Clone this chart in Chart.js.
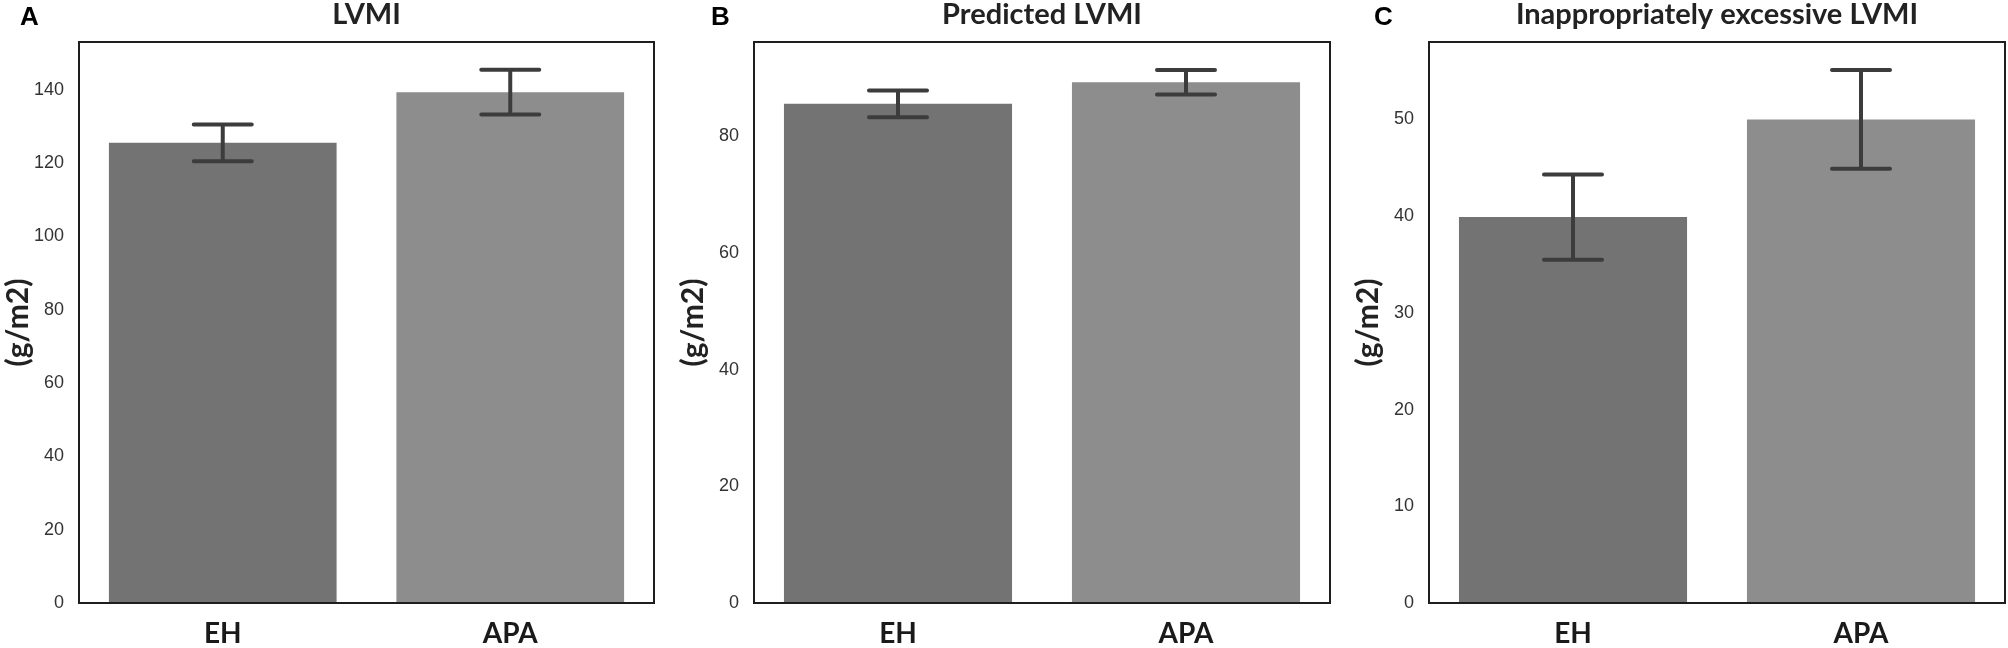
<!DOCTYPE html>
<html>
<head>
<meta charset="utf-8">
<script src="https://cdn.jsdelivr.net/npm/chart.js@4.4.0/dist/chart.umd.min.js"></script>
<style>
body { margin: 0; background: #fff; }
#wrap { position: relative; width: 2008px; height: 648px; overflow: hidden; }
.panel { position: absolute; top: 0; width: 658px; height: 648px; }
.letter { position: absolute; top: 3px; font: bold 26px "Liberation Sans", Arial, sans-serif; line-height: 26px; color: #000; }
</style>
</head>
<body>
<div id="wrap">
  <div class="panel" style="left:0"><canvas id="graphA"></canvas></div>
  <div class="panel" style="left:675px"><canvas id="graphB"></canvas></div>
  <div class="panel" style="left:1350px"><canvas id="graphC"></canvas></div>
  <div class="letter" style="left:20px">A</div>
  <div class="letter" style="left:711px">B</div>
  <div class="letter" style="left:1374px">C</div>
</div>
<script>
// groups and colours
var groups = ["EH", "APA"];
var barColors = ["#737373", "#8d8d8d"];

// mean values and error bars (g/m2)
var lvmi_mean = [125.5, 139.3];
var lvmi_err = [5.0, 6.1];
var predicted_mean = [85.6, 89.3];
var predicted_err = [2.3, 2.1];
var excess_mean = [39.9, 50.0];
var excess_err = [4.4, 5.1];

var titles = ["LVMI", "Predicted LVMI", "Inappropriately excessive LVMI"];
var yMax = [153, 96.2, 58];
var yStep = [20, 20, 10];
var yLabel = "(g/m2)";

// error bars drawn from the y scale of each chart
var errorBars = {
    id: "errorBars",
    afterDatasetsDraw(chart) {
        var ctx = chart.ctx;
        var yScale = chart.scales.y;
        chart.data.datasets.forEach(function(ds, i) {
            var meta = chart.getDatasetMeta(i);
            meta.data.forEach(function(bar, n) {
                var hi = yScale.getPixelForValue(ds.data[n] + ds.errors[n]);
                var lo = yScale.getPixelForValue(ds.data[n] - ds.errors[n]);
                ctx.save();
                ctx.strokeStyle = "#3c3c3c";
                ctx.lineWidth = 4;
                ctx.lineCap = "butt";
                ctx.beginPath();
                ctx.moveTo(bar.x, hi);
                ctx.lineTo(bar.x, lo);
                ctx.stroke();
                ctx.lineCap = "round";
                ctx.beginPath();
                ctx.moveTo(bar.x - 29, hi);
                ctx.lineTo(bar.x + 29, hi);
                ctx.moveTo(bar.x - 29, lo);
                ctx.lineTo(bar.x + 29, lo);
                ctx.stroke();
                ctx.restore();
            });
        });
    }
};

// box around the plot area
var frame = {
    id: "frame",
    afterDatasetsDraw(chart) {
        var a = chart.chartArea;
        var ctx = chart.ctx;
        ctx.save();
        ctx.strokeStyle = "#1e1e1e";
        ctx.lineWidth = 2;
        ctx.strokeRect(a.left, a.top, a.right - a.left, a.bottom - a.top);
        ctx.restore();
    }
};

function makeChart(id, means, errs, title, max, step, padRight) {
    var ctx = document.getElementById(id).getContext("2d");
    return new Chart(ctx, {
        type: "bar",
        data: {
            labels: groups,
            datasets: [{
                data: means,
                errors: errs,
                backgroundColor: barColors,
                borderWidth: 0,
                barPercentage: 0.792,
                categoryPercentage: 1
            }]
        },
        options: {
            responsive: true,
            maintainAspectRatio: false,
            animation: false,
            layout: { padding: { left: 0, right: padRight, top: 0, bottom: 0 } },
            plugins: {
                legend: { display: false },
                tooltip: { enabled: false },
                title: {
                    display: true,
                    text: title,
                    fullSize: false,
                    color: "#222",
                    font: { family: "Lato", size: 29, weight: "bold" },
                    padding: { top: -3, bottom: 10.2 }
                }
            },
            scales: {
                x: {
                    grid: { display: false, drawTicks: false },
                    border: { display: false },
                    ticks: {
                        color: "#1a1a1a",
                        padding: 14,
                        font: { family: "Lato", size: 28, weight: "bold" }
                    },
                    afterFit: function(s) { s.height = 45; }
                },
                y: {
                    min: 0,
                    max: max,
                    bounds: "data",
                    grid: { display: false, drawTicks: false },
                    border: { display: false },
                    ticks: {
                        stepSize: step,
                        includeBounds: false,
                        color: "#333",
                        padding: 15,
                        font: { family: "Liberation Sans", size: 18 }
                    },
                    // keep only the round step ticks, not the axis maximum
                    afterBuildTicks: function(s) {
                        s.ticks = s.ticks.filter(function(t) { return t.value % step === 0; });
                    },
                    title: {
                        display: true,
                        text: yLabel,
                        color: "#222",
                        font: { family: "Lato", size: 30, weight: "bold" },
                        padding: { top: 0, bottom: 0 }
                    },
                    afterFit: function(s) { s.width = 79; }
                }
            }
        },
        plugins: [errorBars, frame]
    });
}

makeChart("graphA", lvmi_mean, lvmi_err, titles[0], yMax[0], yStep[0], 4);
makeChart("graphB", predicted_mean, predicted_err, titles[1], yMax[1], yStep[1], 3);
makeChart("graphC", excess_mean, excess_err, titles[2], yMax[2], yStep[2], 3);
</script>
</body>
</html>
